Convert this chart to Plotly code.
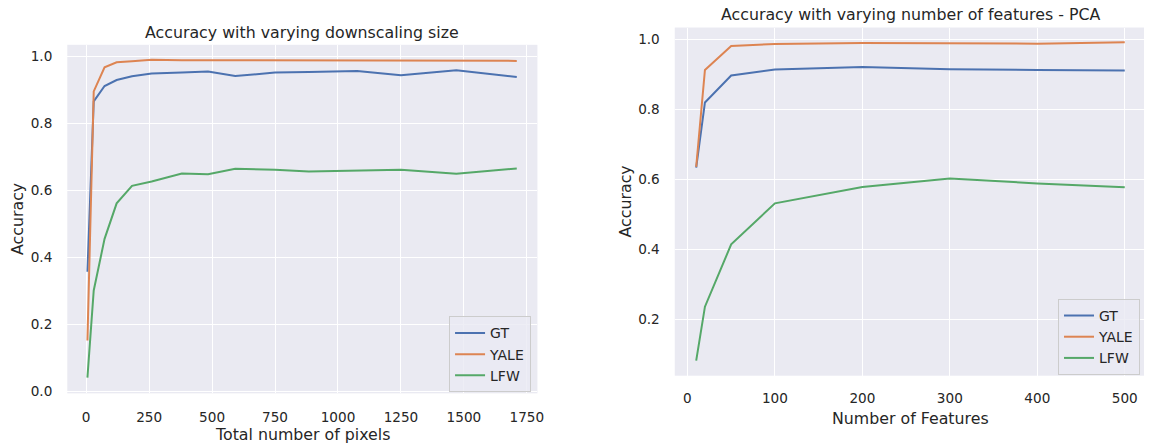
import plotly.graph_objects as go

# ---- data ----
pixels = [5, 30, 73, 121, 182, 260, 380, 484, 592, 750, 884, 1076, 1250, 1470, 1710]
gt_pix = [0.358, 0.866, 0.912, 0.930, 0.941, 0.949, 0.952, 0.955, 0.942, 0.952, 0.954, 0.957, 0.944, 0.959, 0.939]
yale_pix = [0.153, 0.896, 0.968, 0.983, 0.986, 0.990, 0.989, 0.989, 0.987, 0.987, 0.987, 0.987, 0.987, 0.987, 0.987]
lfw_pix = [0.042, 0.302, 0.456, 0.562, 0.614, 0.627, 0.651, 0.649, 0.665, 0.662, 0.657, 0.659, 0.662, 0.650, 0.666]

features = [10, 20, 50, 100, 200, 300, 400, 500]
gt_pca = [0.634, 0.820, 0.897, 0.914, 0.921, 0.915, 0.913, 0.911]
yale_pca = [0.636, 0.913, 0.981, 0.987, 0.990, 0.990, 0.988, 0.992]
lfw_pca = [0.083, 0.237, 0.415, 0.532, 0.579, 0.603, 0.589, 0.578]

series_names = ["GT", "YALE", "LFW"]
colors = ["#4C72B0", "#DD8452", "#55A868"]

left_xticks = [0, 250, 500, 750, 1000, 1250, 1500, 1750]
left_yticks = [0.0, 0.2, 0.4, 0.6, 0.8, 1.0]
right_xticks = [0, 100, 200, 300, 400, 500]
right_yticks = [0.2, 0.4, 0.6, 0.8, 1.0]

titles = ["Accuracy with varying downscaling size", "Accuracy with varying number of features - PCA"]
xlabels = ["Total number of pixels", "Number of Features"]
ylabel = "Accuracy"

W, H = 1151, 448
FONT = "DejaVu Sans"
TXT = "#262626"

def px(x):
    return x / W

def py(y):
    return (H - y) / H

fig = go.Figure()

for name, ys, c in zip(series_names, [gt_pix, yale_pix, lfw_pix], colors):
    fig.add_trace(go.Scatter(x=pixels, y=ys, mode="lines", name=name,
                             line=dict(color=c, width=2), xaxis="x", yaxis="y",
                             legend="legend"))
for name, ys, c in zip(series_names, [gt_pca, yale_pca, lfw_pca], colors):
    fig.add_trace(go.Scatter(x=features, y=ys, mode="lines", name=name,
                             line=dict(color=c, width=2), xaxis="x2", yaxis="y2",
                             legend="legend2"))

axis_common = dict(showgrid=True, gridcolor="white", gridwidth=1.3, zeroline=False,
                   showline=False, ticks="", tickfont=dict(family=FONT, size=13.6, color=TXT))

# left axes: plot area x 67.7..540.7, y 45.4..398.7
fig.update_layout(
    xaxis=dict(domain=[px(67.7), px(540.7)], range=[-75, 1792], tickvals=left_xticks,
               ticklabelstandoff=14, anchor="y", **axis_common),
    yaxis=dict(domain=[py(398.7), py(45.4)], range=[-0.005, 1.035], tickvals=left_yticks,
               tickformat=".1f", ticklabelstandoff=14, anchor="x", **axis_common),
    xaxis2=dict(domain=[px(678.9), 1.0], range=[-14.5, 522], tickvals=right_xticks,
                ticklabelstandoff=13, anchor="y2", **axis_common),
    yaxis2=dict(domain=[py(380.8), py(27.9)], range=[0.04, 1.034], tickvals=right_yticks,
                tickformat=".1f", ticklabelstandoff=14, anchor="x2", **axis_common),
)

legend_common = dict(bgcolor="rgba(234,234,242,0.8)", bordercolor="#CCCCCC", borderwidth=1,
                     font=dict(family=FONT, size=14, color=TXT), xanchor="right", yanchor="bottom",
                     tracegroupgap=0)

fig.update_layout(
    width=W, height=H, autosize=False,
    margin=dict(l=0, r=0, t=0, b=0),
    paper_bgcolor="white", plot_bgcolor="#EAEAF2",
    showlegend=True,
    legend=dict(x=px(534.3), y=py(397.7), **legend_common),
    legend2=dict(x=px(1147), y=py(380), **legend_common),
    font=dict(family=FONT, color=TXT),
)

ann = []
# titles
ann.append(dict(text=titles[0], x=px(304.2), y=py(33), xanchor="center", yanchor="middle"))
ann.append(dict(text=titles[1], x=px(916), y=py(15), xanchor="center", yanchor="middle"))
# x labels
ann.append(dict(text=xlabels[0], x=px(304.2), y=py(440), xanchor="center", yanchor="middle"))
ann.append(dict(text=xlabels[1], x=px(916), y=py(424), xanchor="center", yanchor="middle"))
# y labels
ann.append(dict(text=ylabel, x=px(17), y=py(222), xanchor="center", yanchor="middle", textangle=-90))
ann.append(dict(text=ylabel, x=px(629), y=py(204), xanchor="center", yanchor="middle", textangle=-90))
for a in ann:
    a.update(xref="paper", yref="paper", showarrow=False,
             font=dict(family=FONT, size=15.8, color=TXT))
fig.update_layout(annotations=ann)

fig.write_html("out.html")
